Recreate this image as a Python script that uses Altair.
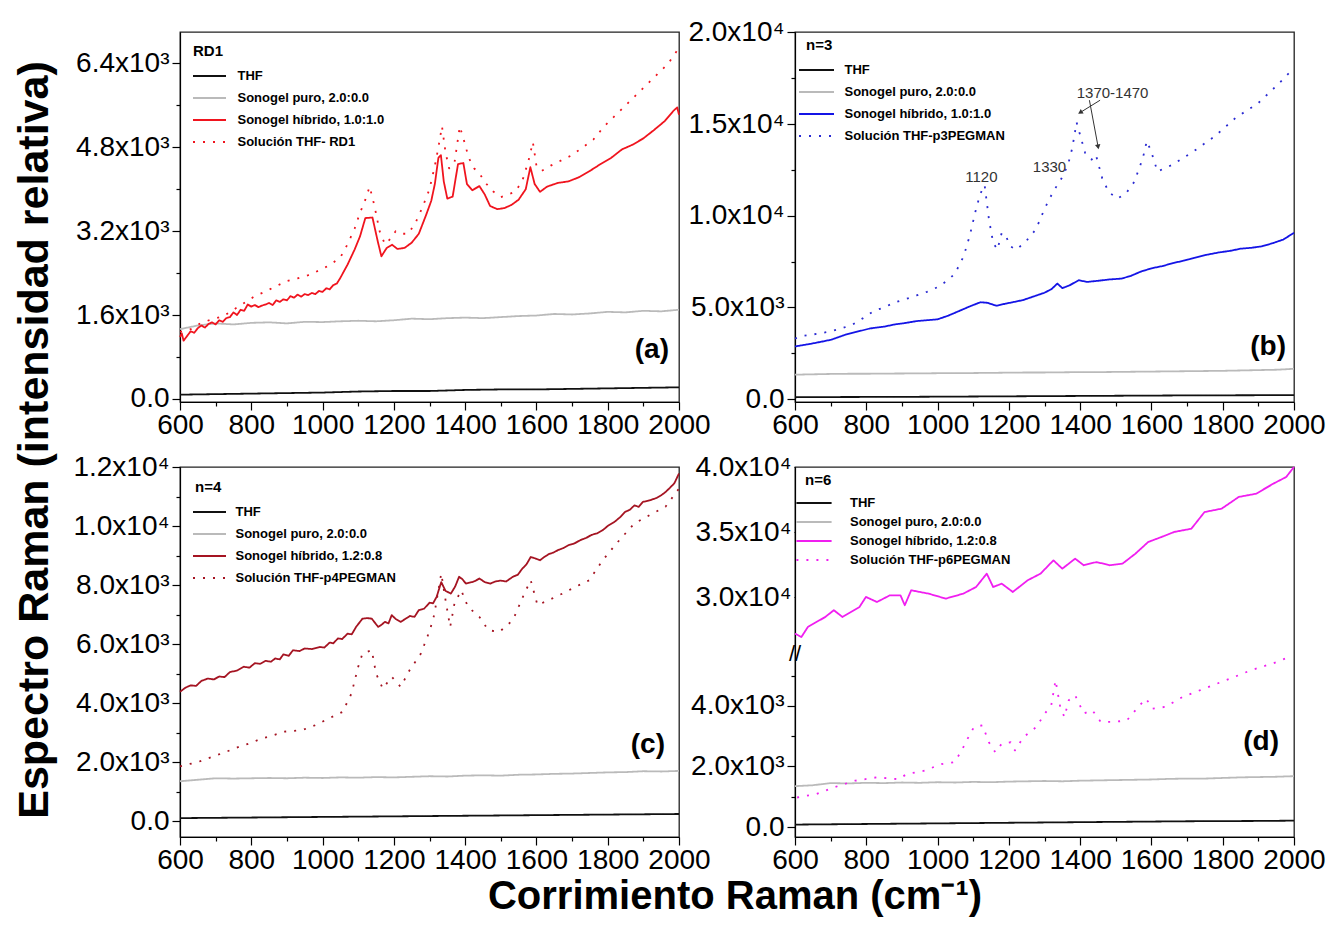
import altair as alt
import pandas as pd

NUM_FONT = "Liberation Sans, Arial, sans-serif"
TXT_FONT = "Liberation Sans, Arial, sans-serif"

X50 = list(range(600, 2001, 50))
X100 = list(range(600, 2001, 100))

# ---------------- panel (a) RD1 ----------------
NAMES_A = ["THF", "Sonogel puro, 2.0:0.0", "Sonogel híbrido, 1.0:1.0", "Solución THF- RD1"]
A_THF = [80, 90, 100, 110, 120, 140, 150, 150, 170, 180, 180, 190, 200, 210, 220]
A_PURO = [1330, 1400, 1440, 1420, 1450, 1460, 1440, 1470, 1465, 1480, 1490, 1480, 1500, 1530, 1520,
          1540, 1550, 1540, 1560, 1580, 1590, 1620, 1610, 1630, 1660, 1650, 1680, 1670, 1700]
A_HYB_X = [600, 605, 610, 620, 630, 640, 650, 660, 670, 680, 690, 700, 710, 720, 730, 740, 750, 760,
           770, 780, 790, 800, 810, 820, 830, 840, 850, 860, 870, 880, 890, 900, 910, 920, 930, 940,
           950, 960, 970, 980, 990, 1000, 1010, 1020, 1030, 1040, 1050, 1070, 1090, 1105, 1120, 1140,
           1155, 1165, 1180, 1195, 1210, 1230, 1250, 1270, 1290, 1305, 1315, 1325, 1332, 1340, 1350,
           1365, 1380, 1395, 1405, 1420, 1440, 1455, 1470, 1490, 1510, 1530, 1550, 1570, 1583, 1595,
           1610, 1630, 1660, 1690, 1720, 1750, 1780, 1810, 1840, 1870, 1900, 1930, 1960, 1985, 1995,
           2000]
A_HYB_Y = [1180, 1250, 1110, 1200, 1290, 1260, 1350, 1400, 1360, 1430, 1460, 1420, 1500, 1470, 1540,
           1560, 1650, 1600, 1700, 1680, 1800, 1760, 1790, 1750, 1780, 1800, 1830, 1790, 1880, 1850,
           1900, 1880, 1960, 1930, 1990, 1950, 2000, 1980, 2020, 2000, 2060, 2040, 2110, 2090, 2170,
           2200, 2310, 2560, 2850, 3100, 3450, 3460, 3000, 2720, 2880, 2940, 2860, 2880, 2980, 3150,
           3500, 3780, 4100, 4600, 4650, 4150, 3820, 3860, 4480, 4500, 4100, 3980, 4060, 3900, 3680,
           3620, 3640, 3700, 3800, 4000, 4420, 4100, 3950, 4050, 4120, 4150, 4230, 4350, 4480, 4600,
           4760, 4850, 4970, 5130, 5300, 5500, 5560, 5420]
A_SOL_X = [600, 630, 660, 690, 720, 750, 780, 810, 840, 870, 900, 930, 960, 990, 1020, 1050, 1070,
           1090, 1105, 1120, 1132, 1145, 1160, 1175, 1190, 1205, 1220, 1240, 1260, 1280, 1300, 1315,
           1325, 1335, 1345, 1355, 1370, 1385, 1398, 1410, 1425, 1440, 1460, 1480, 1500, 1520, 1540,
           1560, 1578, 1590, 1600, 1615, 1640, 1670, 1700, 1730, 1760, 1790, 1820, 1850, 1880, 1910,
           1940, 1970, 2000]
A_SOL_Y = [1280, 1330, 1450, 1520, 1570, 1700, 1830, 1960, 2050, 2150, 2250, 2300, 2360, 2450, 2550,
           2700, 2950, 3250, 3550, 3800, 4050, 3700, 3200, 2950, 3050, 3200, 3150, 3150, 3350, 3650,
           4000, 4450, 4800, 5200, 4700, 4400, 4500, 5200, 4900, 4600, 4400, 4300, 4100, 3950, 3850,
           3900, 3950, 4150, 4550, 4900, 4450, 4350, 4450, 4550, 4650, 4800, 4950, 5200, 5400, 5600,
           5800, 6000, 6200, 6400, 6700]

# ---------------- panel (b) n=3 ----------------
NAMES_B = ["THF", "Sonogel puro, 2.0:0.0", "Sonogel híbrido, 1.0:1.0", "Solución THF-p3PEGMAN"]
B_THF = [100, 110, 115, 120, 130, 140, 150, 160, 170, 180, 190, 200, 205, 210, 220]
B_PURO = [1330, 1350, 1370, 1380, 1380, 1390, 1395, 1400, 1410, 1420, 1420, 1430, 1440, 1450, 1450,
          1460, 1470, 1470, 1480, 1490, 1500, 1510, 1520, 1530, 1540, 1560, 1580, 1600, 1650]
B_HYB_X = [600, 640, 680, 702, 740, 780, 810, 850, 880, 910, 940, 970, 1000, 1030, 1060, 1090, 1120,
           1140, 1165, 1190, 1210, 1240, 1270, 1300, 1320, 1336, 1350, 1370, 1396, 1420, 1450, 1480,
           1515, 1540, 1570, 1600, 1630, 1660, 1690, 1720, 1755, 1790, 1820, 1850, 1880, 1910, 1940,
           1970, 2000]
B_HYB_Y = [2870, 3000, 3150, 3240, 3500, 3700, 3850, 3950, 4070, 4150, 4250, 4300, 4350, 4550, 4800,
           5050, 5280, 5250, 5090, 5200, 5280, 5400, 5600, 5800, 6000, 6300, 6050, 6200, 6480, 6390,
           6450, 6520, 6570, 6700, 6950, 7130, 7250, 7410, 7550, 7700, 7870, 8000, 8080, 8200, 8250,
           8330, 8500, 8700, 9070]
B_SOL_X = [600, 618, 660, 702, 730, 762, 790, 822, 850, 881, 910, 941, 970, 1001, 1030, 1049, 1073,
           1090, 1108, 1120, 1132, 1144, 1156, 1168, 1180, 1192, 1204, 1222, 1252, 1276, 1300, 1324,
           1348, 1366, 1378, 1390, 1402, 1414, 1432, 1444, 1462, 1480, 1504, 1528, 1552, 1576, 1587,
           1599, 1617, 1659, 1719, 1779, 1838, 1898, 1958, 2000]
B_SOL_Y = [3300, 3430, 3550, 3700, 3850, 4070, 4400, 4810, 5000, 5280, 5450, 5650, 5850, 6110, 6500,
           6850, 7780, 8890, 10370, 11200, 11670, 9820, 8520, 8150, 9070, 8890, 8330, 8150, 8700,
           9260, 10370, 11300, 12040, 12780, 13700, 15090, 14260, 13430, 13060, 13330, 12040, 11300,
           10930, 11200, 11850, 13150, 14070, 13520, 12410, 12780, 13520, 14350, 15370, 16110, 17220,
           18060]
ANN_B_TEXT = ["1120", "1330", "1370-1470"]
ANN_B_X = [1123, 1314, 1491]
ANN_B_V = [12130, 12630, 16700]
ARR_B_X = [1456, 1426]
ARR_B_V = [16300, 16300]
ARR_B_X2 = [1402, 1450]
ARR_B_V2 = [15650, 13800]
ARR_B_ANG = [238, 169]

# ---------------- panel (c) n=4 ----------------
NAMES_C = ["THF", "Sonogel puro, 2.0:0.0", "Sonogel híbrido, 1.2:0.8", "Solución THF-p4PEGMAN"]
C_THF = [100, 110, 120, 130, 140, 150, 160, 170, 180, 190, 200, 210, 220, 230, 240]
C_PURO = [1350, 1400, 1450, 1440, 1450, 1460, 1450, 1470, 1460, 1480, 1470, 1490, 1480, 1500, 1520,
          1510, 1540, 1550, 1540, 1570, 1580, 1600, 1610, 1630, 1650, 1660, 1690, 1680, 1700]
C_HYB_X = [600, 615, 630, 645, 660, 678, 695, 710, 725, 740, 760, 779, 795, 810, 825, 840, 855, 867,
           880, 890, 905, 917, 935, 950, 970, 993, 1005, 1020, 1030, 1043, 1055, 1070, 1082, 1094,
           1112, 1125, 1138, 1156, 1165, 1175, 1185, 1194, 1205, 1219, 1232, 1245, 1258, 1270, 1285,
           1300, 1310, 1320, 1333, 1345, 1360, 1372, 1383, 1392, 1402, 1420, 1430, 1440, 1455, 1471,
           1485, 1500, 1515, 1534, 1548, 1560, 1572, 1584, 1597, 1610, 1622, 1635, 1648, 1660, 1675,
           1690, 1705, 1723, 1740, 1755, 1770, 1786, 1800, 1820, 1835, 1849, 1862, 1875, 1887, 1899,
           1912, 1925, 1937, 1950, 1962, 1975, 1987, 2000]
C_HYB_Y = [4380, 4520, 4600, 4580, 4750, 4830, 4800, 4900, 4880, 5050, 5100, 5230, 5200, 5350, 5330,
           5430, 5400, 5510, 5480, 5650, 5600, 5790, 5760, 5850, 5830, 5900, 5880, 6050, 6020, 6190,
           6170, 6350, 6330, 6580, 6860, 6880, 6860, 6580, 6650, 6750, 6700, 6980, 6850, 6750, 6850,
           6950, 6920, 7150, 7200, 7400, 7380, 7600, 8100, 7800, 7710, 7950, 8280, 8200, 8050, 8100,
           8150, 8220, 8100, 8050, 8120, 8150, 8120, 8280, 8350, 8550, 8700, 8950, 8900, 8840, 8950,
           9050, 9100, 9180, 9250, 9350, 9400, 9520, 9600, 9700, 9750, 9860, 10000, 10150, 10300,
           10480, 10550, 10700, 10650, 10820, 10850, 10900, 10950, 11040, 11150, 11300, 11450, 11780]
C_SOL_X = [600, 615, 650, 691, 730, 766, 800, 829, 860, 892, 942, 980, 1018, 1056, 1081, 1100, 1112,
           1138, 1150, 1169, 1194, 1219, 1244, 1276, 1301, 1313, 1333, 1345, 1358, 1370, 1389, 1408,
           1440, 1465, 1496, 1534, 1566, 1584, 1603, 1635, 1673, 1710, 1748, 1786, 1824, 1874, 1925,
           1962, 2000]
C_SOL_Y = [1850, 1900, 2000, 2180, 2350, 2520, 2650, 2800, 2900, 3030, 3080, 3250, 3480, 3700, 4320,
           5230, 5680, 5790, 5000, 4490, 4890, 4550, 5110, 5680, 6470, 6980, 8390, 7490, 6580, 7370,
           7820, 7260, 6920, 6470, 6410, 6810, 7710, 8160, 7320, 7490, 7710, 7940, 8160, 8840, 9400,
           10080, 10420, 10650, 11270]

# ---------------- panel (d) n=6 (broken axis) ----------------
NAMES_D = ["THF", "Sonogel puro, 2.0:0.0", "Sonogel híbrido, 1.2:0.8", "Solución THF-p6PEGMAN"]
D_THF = [80, 90, 100, 110, 120, 130, 140, 150, 160, 170, 180, 190, 195, 200, 210]
D_PURO = [1350, 1380, 1450, 1440, 1460, 1450, 1470, 1460, 1480, 1470, 1490, 1480, 1500, 1510, 1520,
          1510, 1530, 1540, 1550, 1560, 1570, 1590, 1600, 1600, 1620, 1640, 1650, 1660, 1680]
D_HYB_X = [600, 618, 636, 685, 709, 733, 781, 799, 830, 866, 896, 908, 926, 975, 1023, 1072, 1108,
           1138, 1156, 1180, 1211, 1253, 1289, 1325, 1350, 1386, 1410, 1446, 1483, 1519, 1555, 1591,
           1628, 1664, 1712, 1749, 1797, 1845, 1894, 1942, 1978, 2000]
D_HYB_Y = [27200, 26940, 27710, 28480, 29000, 28480, 29250, 30020, 29630, 30140, 30140, 29380, 30530,
           30270, 29890, 30270, 30780, 31810, 30780, 31040, 30400, 31300, 31810, 32830, 32190, 32960,
           32450, 32700, 32450, 32580, 33340, 34240, 34620, 35010, 35260, 36540, 36800, 37700, 37950,
           38720, 39230, 40000]
D_SOL_X = [606, 660, 709, 769, 830, 890, 914, 963, 1011, 1047, 1065, 1084, 1102, 1126, 1144, 1162,
           1180, 1205, 1217, 1241, 1277, 1301, 1319, 1331, 1344, 1356, 1368, 1386, 1410, 1434, 1458,
           1495, 1531, 1567, 1585, 1603, 1640, 1688, 1737, 1785, 1833, 1882, 1942, 1990]
D_SOL_Y = [975, 1090, 1310, 1530, 1640, 1580, 1750, 1860, 2080, 2140, 2470, 2910, 3300, 3360, 2800,
           2470, 2750, 2800, 2530, 2970, 3300, 3750, 4020, 4850, 3970, 3630, 4190, 4350, 3750, 3860,
           3470, 3470, 3520, 4020, 4240, 3910, 3970, 4300, 4520, 4740, 4960, 5190, 5410, 5630]
BRK_LO = 5700
BRK_HI = 25600
RATIO = 0.43

W, H = 499, 370


def to_plot(v):
    return round(BRK_LO + (v - BRK_HI) * RATIO, 2) if v > BRK_LO else v


def make_df(thf, puro, hx, hy, sx, sy, names):
    return pd.concat([
        pd.DataFrame({"x": X100, "v": thf, "series": names[0]}),
        pd.DataFrame({"x": X50, "v": puro, "series": names[1]}),
        pd.DataFrame({"x": hx, "v": hy, "series": names[2]}),
        pd.DataFrame({"x": sx, "v": sy, "series": names[3]}),
    ], ignore_index=True)


def lab_expr(pairs):
    s = ""
    for val, lab in pairs:
        s += f"abs(datum.value - {val}) < 0.5 ? '{lab}' : "
    return s + "''"


def major_test(vals):
    return " || ".join(f"abs(datum.value - {v}) < 0.5" for v in vals)


LABEL_SIZE = 28
X_SCALE = alt.Scale(domain=[600, 2000], nice=False, zero=False)
X_AXIS = alt.Axis(values=X100, labelExpr="datum.value % 200 === 0 ? '' + datum.value : ''",
                  tickSize={"condition": {"test": "datum.value % 200 === 0", "value": 8}, "value": 4},
                  title=None, grid=False, labelFont=NUM_FONT, labelFontSize=LABEL_SIZE,
                  labelColor="black", labelPadding=1, domainColor="black", domainWidth=1.2,
                  tickColor="black", tickWidth=1.2, labelFlush=False, labelOverlap=False)


def y_axis(values, label_expr, test):
    return alt.Axis(values=values, labelExpr=label_expr,
                    tickSize={"condition": {"test": test, "value": 8}, "value": 4},
                    title=None, grid=False, labelFont=NUM_FONT, labelFontSize=LABEL_SIZE,
                    labelColor="black", labelPadding=3, domainColor="black", domainWidth=1.2,
                    tickColor="black", tickWidth=1.2, labelFlush=False, labelOverlap=False)


def lin_axis(majors, labels, minors):
    return y_axis(sorted(majors + minors), lab_expr(zip(majors, labels)), major_test(majors))


def legend(title, lx, ly, size, path, sym_off, lab_off, row_pad):
    return alt.Legend(title=title, orient="none", legendX=lx, legendY=ly,
                      titleFont=TXT_FONT, titleFontSize=15, titleFontWeight="bold",
                      titleColor="black", titlePadding=6,
                      labelFont=TXT_FONT, labelFontSize=13, labelFontWeight="bold",
                      labelColor="black", labelLimit=0, symbolType=path, symbolSize=size,
                      symbolStrokeWidth=2.2, symbolOffset=sym_off, labelOffset=lab_off,
                      rowPadding=row_pad, padding=0)


def panel(df, names, colors, dashes, ydom, yaxis, leg, letter, lx, ly, yfield="v", calc=None,
          extra=None):
    base = alt.Chart(df)
    if calc:
        base = base.transform_calculate(yt=calc)
    y_scale = alt.Scale(domain=ydom, nice=False, zero=False)
    lines = base.mark_line(strokeCap="butt", strokeJoin="round").encode(
        x=alt.X("x:Q", scale=X_SCALE, axis=X_AXIS),
        y=alt.Y(f"{yfield}:Q", scale=y_scale, axis=yaxis),
        color=alt.Color("series:N", scale=alt.Scale(domain=names, range=colors), legend=leg),
        strokeDash=alt.StrokeDash("series:N", scale=alt.Scale(domain=names, range=dashes), legend=leg),
        strokeWidth=alt.StrokeWidth("series:N", scale=alt.Scale(domain=names, range=[1.8, 1.8, 1.6, 2.3]),
                                    legend=None),
    )
    letter_layer = alt.Chart(pd.DataFrame({"t": [letter]})).mark_text(
        font=TXT_FONT, fontSize=28, fontWeight="bold", align="right", baseline="middle",
        color="black").encode(text="t:N", x=alt.value(lx), y=alt.value(ly))
    layers = [lines, letter_layer] + (extra or [])
    return alt.layer(*layers).properties(width=W, height=H)


DASHES = [[1, 0], [1, 0], [1, 0], [2, 8]]

# (a) with the shared y title
ytitle = alt.Chart(pd.DataFrame({"t": ["Espectro Raman (intensidad relativa)"]})).mark_text(
    font=TXT_FONT, fontSize=43, fontWeight="bold", color="black", align="center",
    baseline="middle", angle=270).encode(text="t:N", x=alt.value(-145), y=alt.value(408))
pa = panel(make_df(A_THF, A_PURO, A_HYB_X, A_HYB_Y, A_SOL_X, A_SOL_Y, NAMES_A), NAMES_A,
           ["#111111", "#bababa", "#f0141e", "#f0141e"], DASHES, [-60, 7000],
           lin_axis([0, 1600, 3200, 4800, 6400], ["0.0", "1.6x10³", "3.2x10³", "4.8x10³", "6.4x10³"],
                    [800, 2400, 4000, 5600]),
           legend("RD1", 13, 12, 400, "M-1.65,0H1.65", 5.5, 17, 4), "(a)", W - 10, 318,
           extra=[ytitle])

# (b)
ann_b = pd.DataFrame({"t": ANN_B_TEXT, "x": ANN_B_X, "v": ANN_B_V})
arr_b = pd.DataFrame({"x": ARR_B_X, "v": ARR_B_V, "x2": ARR_B_X2, "v2": ARR_B_V2, "ang": ARR_B_ANG})
B_YDOM = [-160, 20020]
B_YSCALE = alt.Scale(domain=B_YDOM, nice=False, zero=False)
B_AXIS = lin_axis([0, 5000, 10000, 15000, 20000], ["0.0", "5.0x10³", "1.0x10⁴", "1.5x10⁴", "2.0x10⁴"],
                  [2500, 7500, 12500, 17500])
b_extra = [
    alt.Chart(ann_b).mark_text(font=TXT_FONT, fontSize=15, color="#333333").encode(
        x=alt.X("x:Q", scale=X_SCALE, axis=X_AXIS),
        y=alt.Y("v:Q", scale=B_YSCALE, axis=B_AXIS), text="t:N"),
    alt.Chart(arr_b).mark_rule(color="#333333", strokeWidth=1).encode(
        x=alt.X("x:Q", scale=X_SCALE, axis=X_AXIS), x2="x2:Q",
        y=alt.Y("v:Q", scale=B_YSCALE, axis=B_AXIS), y2="v2:Q"),
    alt.Chart(arr_b).mark_point(shape="triangle", filled=True, size=30, color="#333333", opacity=1).encode(
        x=alt.X("x2:Q", scale=X_SCALE, axis=X_AXIS),
        y=alt.Y("v2:Q", scale=B_YSCALE, axis=B_AXIS),
        angle=alt.Angle("ang:Q", scale=None)),
]
pb = panel(make_df(B_THF, B_PURO, B_HYB_X, B_HYB_Y, B_SOL_X, B_SOL_Y, NAMES_B), NAMES_B,
           ["#111111", "#bababa", "#1414e6", "#2a2ad2"], DASHES, B_YDOM, B_AXIS,
           legend("n=3", 11, 6, 400, "M-1.75,0H1.75", -0.5, 17, 4), "(b)", W - 8, 315,
           extra=b_extra)

# (c) with the shared x title
xtitle = alt.Chart(pd.DataFrame({"t": ["Corrimiento Raman (cm⁻¹)"]})).mark_text(
    font=TXT_FONT, fontSize=40, fontWeight="bold", color="black", align="center",
    baseline="middle").encode(text="t:N", x=alt.value(555), y=alt.value(430))
pc = panel(make_df(C_THF, C_PURO, C_HYB_X, C_HYB_Y, C_SOL_X, C_SOL_Y, NAMES_C), NAMES_C,
           ["#111111", "#bababa", "#a51422", "#a51422"], DASHES, [-540, 12000],
           lin_axis([0, 2000, 4000, 6000, 8000, 10000, 12000],
                    ["0.0", "2.0x10³", "4.0x10³", "6.0x10³", "8.0x10³", "1.0x10⁴", "1.2x10⁴"],
                    [1000, 3000, 5000, 7000, 9000, 11000]),
           legend("n=4", 15, 13, 400, "M-1.65,0H1.65", 3.5, 15, 4), "(c)", W - 14, 278,
           extra=[xtitle])

# (d) broken axis
D_VALUES = [0, 1000, 2000, 3000, 4000, 5000] + [to_plot(v) for v in (27500, 30000, 32500, 35000, 37500, 40000)]
D_YDOM = [-330, to_plot(40000)]
D_YSCALE = alt.Scale(domain=D_YDOM, nice=False, zero=False)
BACK = f"round({BRK_HI} + (datum.value - {BRK_LO}) / {RATIO})"
D_LABELS = (f"datum.value > {BRK_LO} ? ({BACK} % 5000 === 0 ? format({BACK} / 10000, '.1f') + 'x10⁴' : '')"
            f" : (datum.value === 0 ? '0.0' : (datum.value % 2000 === 0 ? format(datum.value / 1000, '.1f') + 'x10³' : ''))")
D_TEST = f"datum.value > {BRK_LO} ? {BACK} % 5000 === 0 : datum.value % 2000 === 0"
D_AXIS = y_axis(D_VALUES, D_LABELS, D_TEST)
brk = alt.Chart(pd.DataFrame({"t": ["//"]})).mark_text(
    font=TXT_FONT, fontSize=22, color="black", align="center", baseline="middle").encode(
    text="t:N", x=alt.value(0), y=alt.YDatum(BRK_LO, scale=D_YSCALE, axis=D_AXIS))
calc = f"datum.v <= {BRK_LO} ? datum.v : {BRK_LO} + (datum.v - {BRK_HI}) * {RATIO}"
pd_ = panel(make_df(D_THF, D_PURO, D_HYB_X, D_HYB_Y, D_SOL_X, D_SOL_Y, NAMES_D), NAMES_D,
            ["#111111", "#bababa", "#f01ef0", "#f01ef0"], DASHES, D_YDOM, D_AXIS,
            legend("n=6", 10, 6, 256, "M-2.2,0H2.2", 0, 27, 3), "(d)", W - 15, 275,
            yfield="yt", calc=calc, extra=[brk])

chart = alt.concat(
    pa, pb, pc, pd_, columns=2, spacing={"row": 65, "column": 116}, bounds="flush",
).resolve_scale(
    x="independent", y="independent", color="independent", strokeDash="independent",
    strokeWidth="independent"
).configure_view(stroke="#222222", strokeWidth=1.3).properties(
    padding={"left": 5, "top": 9, "right": 0, "bottom": 0}, background="white")

chart.save("out.html", embed_options={"renderer": "svg", "actions": False})
